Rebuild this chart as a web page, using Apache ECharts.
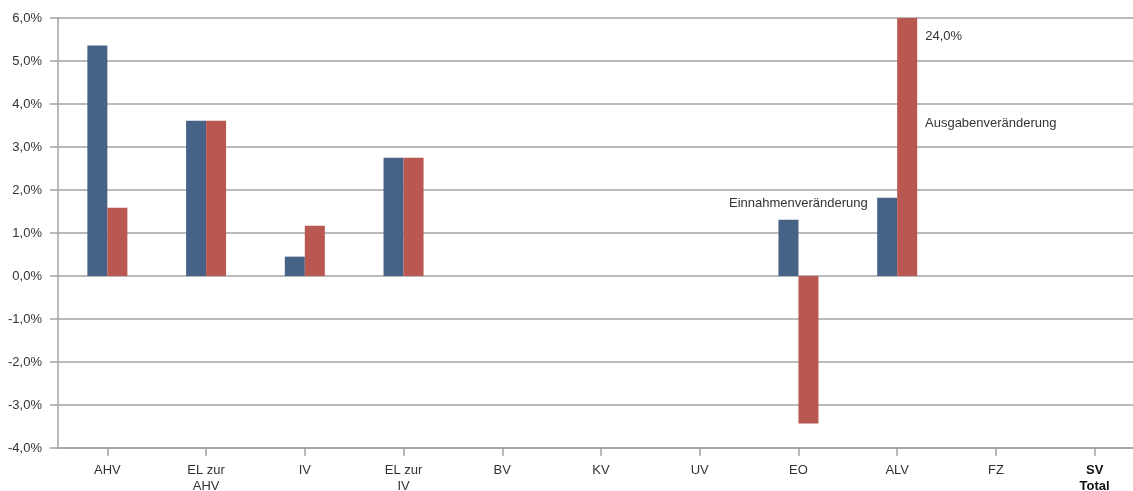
<!DOCTYPE html>
<html>
<head>
<meta charset="utf-8">
<script src="https://cdn.jsdelivr.net/npm/echarts@6/dist/echarts.min.js"></script>
<style>
  html, body { margin: 0; padding: 0; background: #fff; }
  #chart { width: 1133px; height: 491px; }
</style>
</head>
<body>
<div id="chart"></div>
<script>
// Veränderung von Einnahmen und Ausgaben je Sozialversicherungszweig
const categories = ['AHV', 'EL zur\nAHV', 'IV', 'EL zur\nIV', 'BV', 'KV', 'UV', 'EO', 'ALV', 'FZ', 'SV\nTotal'];
const einnahmen = [5.36, 3.61, 0.45, 2.75, null, null, null, 1.31, 1.82, null, null];
const ausgaben  = [1.59, 3.61, 1.17, 2.75, null, null, null, -3.43, 24.0, null, null];
const yMin = -4, yMax = 6, yStep = 1;
const seriesNames = ['Einnahmenveränderung', 'Ausgabenveränderung'];

const FONT = '"Liberation Sans", Arial, sans-serif';
const TEXT = '#333333';
const LINE = '#a3a3a3';
const BLUE = '#466287';
const RED = '#b95751';

const pct = v => v.toFixed(1).replace('.', ',') + '%';

const chart = echarts.init(document.getElementById('chart'), null, { renderer: 'canvas' });

chart.setOption({
  animation: false,
  backgroundColor: '#ffffff',
  textStyle: { fontFamily: FONT },
  // the last category runs a little past the right edge of the page
  grid: { left: 58, width: 1086, top: 18, bottom: 43, containLabel: false, outerBoundsMode: 'none' },
  legend: [
    {
      data: [seriesNames[0]], icon: 'none', itemWidth: 0, itemGap: 0, padding: 0,
      left: 724, top: 196, selectedMode: false,
      textStyle: { color: TEXT, fontSize: 13, fontFamily: FONT }
    },
    {
      data: [seriesNames[1]], icon: 'none', itemWidth: 0, itemGap: 0, padding: 0,
      left: 920, top: 116, selectedMode: false,
      textStyle: { color: TEXT, fontSize: 13, fontFamily: FONT }
    }
  ],
  xAxis: {
    type: 'category',
    data: categories,
    position: 'bottom',
    axisLine: { onZero: false, lineStyle: { color: LINE, width: 1.5 } },
    axisTick: { show: true, alignWithLabel: true, length: 8, lineStyle: { color: LINE, width: 1.5 } },
    axisLabel: {
      interval: 0, margin: 14, color: TEXT, fontSize: 13, lineHeight: 16, fontFamily: FONT,
      formatter: v => v === 'SV\nTotal' ? '{b|SV}\n{b|Total}' : v,
      rich: { b: { fontWeight: 'bold', color: '#111', fontSize: 13, lineHeight: 16, fontFamily: FONT } }
    },
    splitLine: { show: false }
  },
  yAxis: {
    type: 'value',
    min: yMin, max: yMax, interval: yStep,
    axisLine: { show: true, lineStyle: { color: LINE, width: 1.5 } },
    axisTick: { show: true, length: 8, lineStyle: { color: LINE, width: 1.5 } },
    axisLabel: { margin: 16, color: TEXT, fontSize: 13, fontFamily: FONT, formatter: v => pct(v) },
    splitLine: { show: true, lineStyle: { color: LINE, width: 1.5 } }
  },
  series: [
    {
      name: seriesNames[0], type: 'bar', data: einnahmen,
      barWidth: 20, barGap: '0%', itemStyle: { color: BLUE }
    },
    {
      name: seriesNames[1], type: 'bar', barWidth: 20, barGap: '0%', clip: true,
      itemStyle: { color: RED },
      data: ausgaben.map(v => v > yMax
        ? { value: v, label: { show: true, position: [28, 18], align: 'left', verticalAlign: 'middle',
            color: TEXT, fontSize: 13, fontFamily: FONT, formatter: p => pct(p.value) } }
        : v)
    }
  ]
});
</script>
</body>
</html>
